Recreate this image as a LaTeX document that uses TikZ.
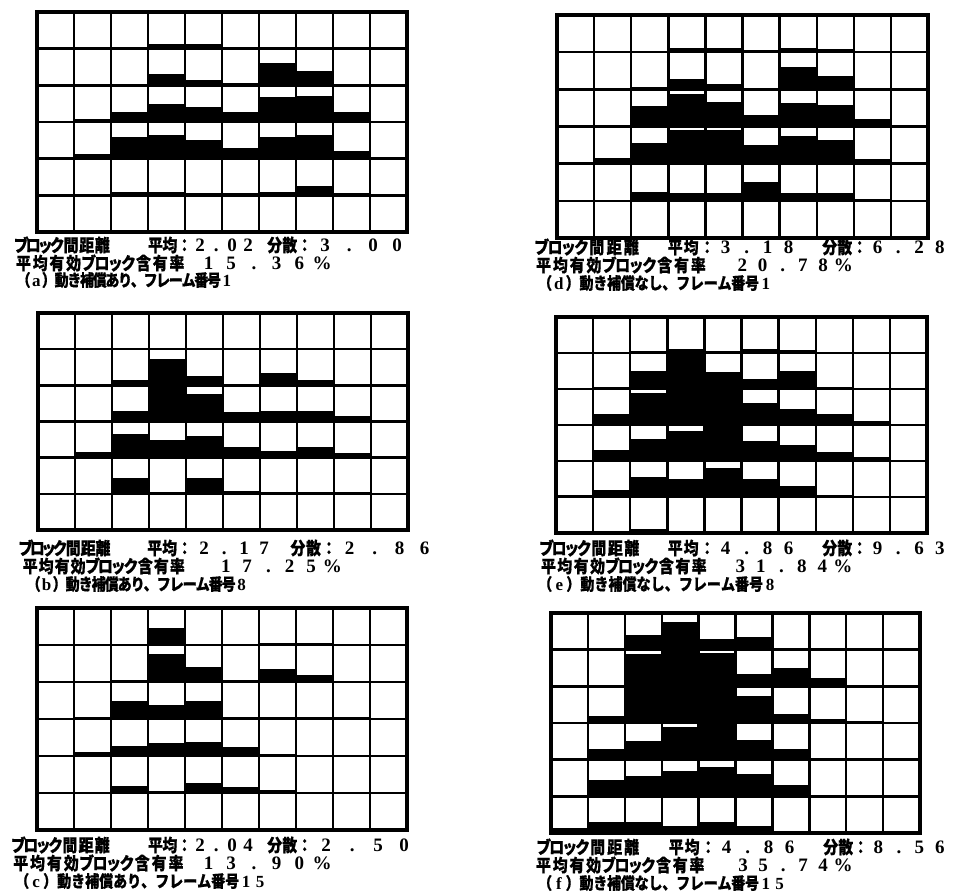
\documentclass[tikz,border=0pt]{standalone}
\usepackage{fontspec}
\setmainfont{Liberation Serif}
\newfontfamily\jp{Noto Sans CJK JP}[FakeStretch=0.85, BoldFeatures={FakeBold=0.6}]
\makeatletter
\newlength\cellw
\newcommand\kj[2]{\setlength\cellw{#1pt}{\jp\@tfor\tk:=#2\do{\makebox[\cellw][c]{\tk}}}}
\newcommand\dg[2]{\setlength\cellw{#1pt}{\rmfamily\fontsize{19}{19}\selectfont\@tfor\tk:=#2\do{\makebox[\cellw][c]{\tk}}}}
\newcommand\dl[2]{\setlength\cellw{#1pt}{\rmfamily\fontsize{17}{17}\selectfont\@tfor\tk:=#2\do{\makebox[\cellw][c]{\tk}}}}
\makeatother
\tikzset{
  txt/.style={anchor=west, inner sep=0pt, font=\bfseries\fontsize{17.5}{17.5}\selectfont},
  txtc/.style={anchor=west, inner sep=0pt, font=\bfseries\fontsize{16.5}{16.5}\selectfont},
  gline/.style={line width=2.4pt, line cap=square},
  gframe/.style={line width=3.2pt, line join=miter}
}
\newcommand\drawgrid[5]{%
  \pgfmathsetmacro\gw{(#3-#1)/10}%
  \pgfmathsetmacro\gh{(#4-#2)/6}%
  \foreach \rowdata [count=\ri] in {#5} {%
    \foreach \fv [count=\ci] in \rowdata {%
      \fill (#1+\ci*\gw-\gw, #2+\ri*\gh) rectangle ++(\gw, -\fv*\gh);%
    }%
  }%
  \foreach \ii in {0,...,10} \draw[gline] (#1+\ii*\gw,#2) -- (#1+\ii*\gw,#4);%
  \foreach \jj in {0,...,6} \draw[gline] (#1,#2+\jj*\gh) -- (#3,#2+\jj*\gh);%
  \draw[gframe] (#1,#2) rectangle (#3,#4);%
}
% block-distance label: kana cell, kanji cell
\newcommand\bkd[2]{\kj{#1}{ブロック}\kj{#2}{間距離}}
% rate label: kanji cell, kana cell
\newcommand\rate[2]{\kj{#1}{平均有効}\kj{#2}{ブロック}\kj{#1}{含有率}}
\begin{document}
\begin{tikzpicture}[x=1pt, y=-1pt]
\useasboundingbox (0,0) rectangle (953,896);
\fill[white] (0,0) rectangle (953,896);

% (a)
\drawgrid{37}{12}{407}{232}{
 {0,0,0,0.12,0.12,0,0.05,0,0,0},
 {0,0,0,0.3,0.15,0.05,0.6,0.38,0,0},
 {0,0.08,0.27,0.5,0.42,0.27,0.68,0.72,0.27,0},
 {0,0.13,0.6,0.65,0.5,0.28,0.6,0.65,0.2,0},
 {0,0,0.1,0.08,0.05,0.05,0.08,0.25,0.05,0},
 {0,0,0.05,0.05,0,0,0,0,0,0}}
% (b)
\drawgrid{38}{313}{408}{530}{
 {0,0,0,0,0,0,0,0,0,0},
 {0,0,0.15,0.72,0.25,0.05,0.35,0.15,0.05,0},
 {0,0.05,0.3,0.95,0.75,0.25,0.3,0.3,0.15,0},
 {0,0.15,0.65,0.5,0.6,0.3,0.18,0.3,0.12,0},
 {0,0,0.45,0.05,0.45,0.08,0.05,0.05,0.05,0},
 {0,0,0.05,0.05,0,0,0,0,0,0}}
% (c)
\drawgrid{37}{608}{407}{830}{
 {0,0,0,0.45,0,0,0.05,0.05,0,0},
 {0,0,0.05,0.75,0.4,0.05,0.35,0.2,0,0},
 {0,0.05,0.5,0.38,0.48,0.05,0.05,0.05,0.05,0},
 {0,0.12,0.28,0.35,0.38,0.25,0.05,0,0,0},
 {0,0,0.2,0.05,0.28,0.15,0.08,0,0,0},
 {0,0,0.05,0,0,0,0,0,0,0}}
% (d)
\drawgrid{557}{15}{928}{238}{
 {0,0,0,0.12,0.1,0.05,0.1,0.08,0,0},
 {0,0,0.05,0.27,0.13,0.02,0.6,0.37,0,0},
 {0,0,0.55,0.88,0.65,0.3,0.63,0.58,0.2,0},
 {0,0.15,0.55,0.9,0.9,0.5,0.75,0.65,0.12,0},
 {0,0,0.25,0.2,0.22,0.5,0.22,0.2,0.05,0},
 {0,0,0,0,0,0,0,0,0,0}}
% (e)
\drawgrid{556}{317}{927}{533}{
 {0,0,0.05,0.1,0.05,0.12,0.08,0,0,0},
 {0,0.05,0.5,0.98,0.47,0.27,0.5,0.05,0,0},
 {0,0.3,0.9,1,0.98,0.6,0.45,0.3,0.12,0},
 {0,0.3,0.6,0.82,1,0.55,0.45,0.25,0.1,0},
 {0.05,0.2,0.55,0.5,0.8,0.5,0.3,0.05,0,0},
 {0.05,0.05,0.1,0,0,0,0,0,0,0}}
% (f)
\drawgrid{551}{613}{920}{833}{
 {0,0,0.4,0.75,0.3,0.35,0.05,0,0,0},
 {0,0.05,0.88,1,0.92,0.33,0.5,0.22,0.05,0},
 {0,0.2,0.98,1,1,0.75,0.25,0.1,0.05,0},
 {0,0.3,0.5,0.88,1,0.55,0.3,0.05,0.05,0},
 {0,0.45,0.55,0.7,0.8,0.6,0.3,0,0,0},
 {0.15,0.3,0.3,0.2,0.3,0.2,0.05,0,0,0}}

% texts (a)
\node[txt] (a11) at (15,245) {\bkd{12}{15.7}};
\node[txt] (a12) at (148,245) {\kj{14.5}{平均：}};
\node[txt] (a13) at (192,245) {\dg{16}{2.02}};
\node[txt] (a14) at (267,245) {\kj{15}{分散：}};
\node[txt] (a15) at (313,245) {\dg{24}{3.00}};
\node[txt] (a21) at (15,263) {\rate{16.7}{13.3}};
\node[txt] (a22) at (197,263) {\dg{22.7}{15.36\%}};
\node[txtc] (a31) at (17,280) {\kj{12.7}{（}\dl{12.7}{a}\kj{12.7}{）動き補償あり、フレーム番号}\dl{12.7}{1}};
% (b)
\node[txt] (b11) at (20,548) {\bkd{11.4}{14.9}};
\node[txt] (b12) at (147,548) {\kj{15}{平均：}};
\node[txt] (b13) at (194,548) {\dg{20}{2.17}};
\node[txt] (b14) at (290,548) {\kj{15.5}{分散：}};
\node[txt] (b15) at (337,548) {\dg{25}{2.86}};
\node[txt] (b21) at (22,566) {\rate{16}{12.8}};
\node[txt] (b22) at (215,566) {\dg{21.3}{17.25\%}};
\node[txtc] (b31) at (27,584) {\kj{13}{（}\dl{13}{b}\kj{13}{）動き補償あり、フレーム番号}\dl{13}{8}};
% (c)
\node[txt] (c11) at (12,845) {\bkd{12.4}{16.2}};
\node[txt] (c12) at (148,845) {\kj{14.5}{平均：}};
\node[txt] (c13) at (192,845) {\dg{16}{2.04}};
\node[txt] (c14) at (267,845) {\kj{15}{分散：}};
\node[txt] (c15) at (313,845) {\dg{26}{2.50}};
\node[txt] (c21) at (12,863) {\rate{16.9}{13.5}};
\node[txt] (c22) at (197,863) {\dg{22.7}{13.90\%}};
\node[txtc] (c31) at (15,881) {\kj{14}{（}\dl{14}{c}\kj{14}{）動き補償あり、フレーム番号}\dl{14}{15}};
% (d)
\node[txt] (d11) at (535,247) {\bkd{13.25}{17.3}};
\node[txt] (d12) at (667,247) {\kj{16}{平均：}};
\node[txt] (d13) at (715,247) {\dg{21}{3.18}};
\node[txt] (d14) at (822,247) {\kj{15}{分散：}};
\node[txt] (d15) at (867,247) {\dg{20.75}{6.28}};
\node[txt] (d21) at (535,265) {\rate{16.8}{13.5}};
\node[txt] (d22) at (732,265) {\dg{20.2}{20.78\%}};
\node[txtc] (d31) at (538,283) {\kj{13.8}{（}\dl{13.8}{d}\kj{13.8}{）動き補償なし、フレーム番号}\dl{13.8}{1}};
% (e)
\node[txt] (e11) at (540,548) {\bkd{12.6}{16.5}};
\node[txt] (e12) at (667,548) {\kj{16}{平均：}};
\node[txt] (e13) at (715,548) {\dg{21}{4.86}};
\node[txt] (e14) at (822,548) {\kj{15}{分散：}};
\node[txt] (e15) at (867,548) {\dg{20.75}{9.63}};
\node[txt] (e21) at (540,566) {\rate{16.4}{13.1}};
\node[txt] (e22) at (730,566) {\dg{20.5}{31.84\%}};
\node[txtc] (e31) at (538,584) {\kj{14.06}{（}\dl{14.06}{e}\kj{14.06}{）動き補償なし、フレーム番号}\dl{14.06}{8}};
% (f)
\node[txt] (f11) at (537,847) {\bkd{13}{17}};
\node[txt] (f12) at (668,847) {\kj{16}{平均：}};
\node[txt] (f13) at (716,847) {\dg{21}{4.86}};
\node[txt] (f14) at (823,847) {\kj{15}{分散：}};
\node[txt] (f15) at (868,847) {\dg{20.5}{8.56}};
\node[txt] (f21) at (535,865) {\rate{16.7}{13.3}};
\node[txt] (f22) at (733,865) {\dg{20}{35.74\%}};
\node[txtc] (f31) at (538,883) {\kj{13.8}{（}\dl{13.8}{f}\kj{13.8}{）動き補償なし、フレーム番号}\dl{13.8}{15}};
\end{tikzpicture}
\end{document}
